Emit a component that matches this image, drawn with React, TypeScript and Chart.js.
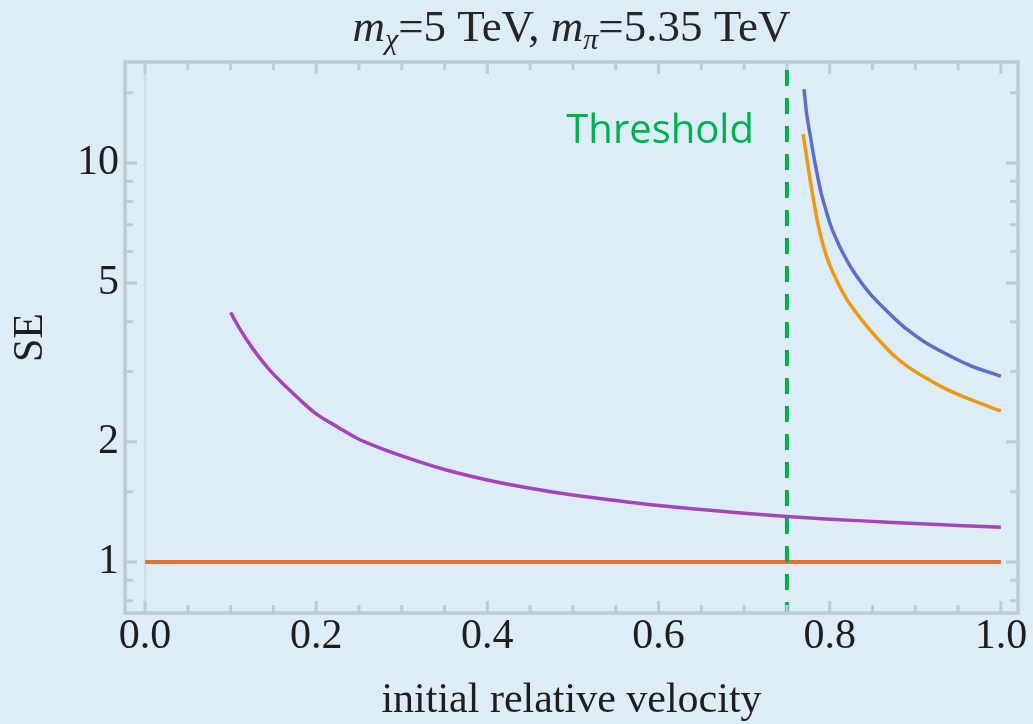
import React, { useEffect, useRef } from 'react';
import { Chart, registerables } from 'chart.js';

Chart.register(...registerables);

// ---------- data ----------
const xTickValues = [0, 0.2, 0.4, 0.6, 0.8, 1.0];
const xMinorTickValues = [0.05, 0.1, 0.15, 0.25, 0.3, 0.35, 0.45, 0.5, 0.55, 0.65, 0.7, 0.75, 0.85, 0.9, 0.95];
const yTickValues = [1, 2, 5, 10];
const yMinorTickValues = [0.8, 0.9, 1.5, 3, 4, 6, 7, 8, 9, 15];
const xRange = [-0.0234, 1.02];
const yRange = [0.745, 17.9];
const thresholdVelocity = 0.75;

const baselineV = [0, 1.0];
const baselineSE = [1, 1];

const purpleV = [0.1, 0.11, 0.1265, 0.146, 0.1655, 0.18, 0.2, 0.225, 0.25, 0.275, 0.3, 0.35, 0.4, 0.45, 0.5, 0.55, 0.6, 0.65, 0.7, 0.75, 0.8, 0.85, 0.9, 0.95, 1.0];
const purpleSE = [4.22, 3.86, 3.41, 3.02, 2.74, 2.56, 2.35, 2.18, 2.03, 1.93, 1.845, 1.705, 1.605, 1.53, 1.472, 1.425, 1.385, 1.353, 1.325, 1.30, 1.28, 1.264, 1.248, 1.235, 1.222];

const blueV = [0.770, 0.773, 0.777, 0.781, 0.785, 0.790, 0.795, 0.800, 0.810, 0.820, 0.830, 0.845, 0.860, 0.875, 0.890, 0.910, 0.935, 0.965, 1.0];
const blueSE = [15.3, 13.3, 11.8, 10.5, 9.45, 8.4, 7.7, 7.08, 6.28, 5.70, 5.26, 4.76, 4.40, 4.09, 3.83, 3.57, 3.33, 3.10, 2.92];

const orangeV = [0.769, 0.773, 0.777, 0.781, 0.785, 0.790, 0.795, 0.800, 0.810, 0.820, 0.830, 0.845, 0.860, 0.875, 0.890, 0.910, 0.935, 0.965, 1.0];
const orangeSE = [11.8, 10.35, 9.1, 8.1, 7.25, 6.5, 5.95, 5.55, 4.98, 4.55, 4.24, 3.86, 3.55, 3.29, 3.10, 2.91, 2.72, 2.55, 2.39];

const titleParts = [
  { text: 'm', italic: true, sub: false },
  { text: 'χ', italic: true, sub: true },
  { text: '=5 TeV, ', italic: false, sub: false },
  { text: 'm', italic: true, sub: false },
  { text: 'π', italic: true, sub: true },
  { text: '=5.35 TeV', italic: false, sub: false },
];
const xAxisTitle = 'initial relative velocity';
const yAxisTitle = 'SE';
const thresholdLabel = 'Threshold';

// ---------- styles ----------
const BG = 'rgb(220,237,247)';
const FRAME = 'rgb(188,203,212)';
const SERIF = "'Liberation Serif', 'Times New Roman', serif";
const TEXT = '#1e1e1e';

const pts = (xs: number[], ys: number[]) => xs.map((x, i) => ({ x, y: ys[i] }));

const framePlugin = {
  id: 'mmaFrame',
  beforeDatasetsDraw(chart: any) {
    const { ctx, chartArea: a, scales } = chart;
    const px = scales.x.getPixelForValue(0);
    ctx.save();
    ctx.strokeStyle = 'rgb(207,223,233)';
    ctx.lineWidth = 2.5;
    ctx.beginPath();
    ctx.moveTo(px, a.top);
    ctx.lineTo(px, a.bottom);
    ctx.stroke();
    ctx.restore();
  },
  afterDatasetsDraw(chart: any) {
    const { ctx, chartArea: a, scales } = chart;
    const xs = scales.x;
    const ys = scales.y;
    ctx.save();
    ctx.strokeStyle = FRAME;
    ctx.lineWidth = 3;
    const drawX = (v: number, len: number) => {
      const p = xs.getPixelForValue(v);
      ctx.beginPath();
      ctx.moveTo(p, a.bottom);
      ctx.lineTo(p, a.bottom - len);
      ctx.moveTo(p, a.top);
      ctx.lineTo(p, a.top + len);
      ctx.stroke();
    };
    const drawY = (v: number, len: number) => {
      const p = ys.getPixelForValue(v);
      ctx.beginPath();
      ctx.moveTo(a.left, p);
      ctx.lineTo(a.left + len, p);
      ctx.moveTo(a.right, p);
      ctx.lineTo(a.right - len, p);
      ctx.stroke();
    };
    xTickValues.forEach((v) => drawX(v, 12));
    xMinorTickValues.forEach((v) => drawX(v, 8));
    yTickValues.forEach((v) => drawY(v, 12));
    yMinorTickValues.forEach((v) => drawY(v, 8));
    ctx.lineWidth = 3.5;
    ctx.strokeRect(a.left, a.top, a.right - a.left, a.bottom - a.top);

    // threshold label
    const tx = xs.getPixelForValue(thresholdVelocity);
    ctx.fillStyle = '#00b050';
    ctx.font = "40px 'Open Sans', 'Noto Sans', sans-serif";
    ctx.textAlign = 'right';
    ctx.textBaseline = 'alphabetic';
    ctx.fillText(thresholdLabel, tx - 33, 143);
    ctx.restore();
  },
  afterDraw(chart: any) {
    const { ctx, chartArea: a } = chart;
    ctx.save();
    ctx.fillStyle = '#262626';
    ctx.textBaseline = 'alphabetic';
    ctx.textAlign = 'left';
    const fontFor = (p: any) => `${p.italic ? 'italic ' : ''}${p.sub ? 30 : 45}px ${SERIF}`;
    let total = 0;
    const widths = titleParts.map((p) => {
      ctx.font = fontFor(p);
      const w = ctx.measureText(p.text).width;
      total += w;
      return w;
    });
    let x = (a.left + a.right) / 2 - total / 2;
    const baseY = 41;
    titleParts.forEach((p, i) => {
      ctx.font = fontFor(p);
      ctx.fillText(p.text, x, p.sub ? baseY + 8 : baseY);
      x += widths[i];
    });
    ctx.restore();
  },
};

export default function App() {
  const ref = useRef<HTMLCanvasElement | null>(null);

  useEffect(() => {
    const canvas = ref.current;
    if (!canvas) return;
    const tickFont = { family: SERIF, size: 42, lineHeight: 1 };
    const chart = new Chart(canvas, {
      type: 'line',
      data: {
        datasets: [
          {
            label: 'threshold',
            data: [
              { x: thresholdVelocity, y: yRange[1] },
              { x: thresholdVelocity, y: yRange[0] },
            ],
            borderColor: '#00b050',
            borderWidth: 4,
            borderDash: [16, 12],
            borderDashOffset: 20,
            pointRadius: 0,
            order: 0,
          },
          {
            label: 'baseline',
            data: pts(baselineV, baselineSE),
            borderColor: 'rgb(230,115,52)',
            borderWidth: 4,
            pointRadius: 0,
            order: 1,
          },
          {
            label: 'purple',
            data: pts(purpleV, purpleSE),
            borderColor: 'rgb(165,68,182)',
            borderWidth: 3.5,
            pointRadius: 0,
            cubicInterpolationMode: 'monotone',
            order: 2,
          },
          {
            label: 'orange',
            data: pts(orangeV, orangeSE),
            borderColor: 'rgb(238,152,22)',
            borderWidth: 3.5,
            pointRadius: 0,
            cubicInterpolationMode: 'monotone',
            order: 3,
          },
          {
            label: 'blue',
            data: pts(blueV, blueSE),
            borderColor: 'rgb(94,110,200)',
            borderWidth: 3.5,
            pointRadius: 0,
            cubicInterpolationMode: 'monotone',
            order: 4,
          },
        ],
      },
      options: {
        animation: false,
        responsive: false,
        devicePixelRatio: 1,
        events: [],
        layout: { padding: { top: 62, right: 15, bottom: 0, left: 0 } },
        plugins: {
          legend: { display: false },
          title: { display: false },
          tooltip: { enabled: false },
        },
        scales: {
          x: {
            type: 'linear',
            min: xRange[0],
            max: xRange[1],
            bounds: 'data',
            grid: { display: false, drawTicks: false },
            border: { display: false },
            afterBuildTicks: (s: any) => {
              s.ticks = xTickValues.map((v) => ({ value: v }));
            },
            afterFit: (s: any) => {
              s.height = 111;
            },
            ticks: {
              autoSkip: false,
              maxRotation: 0,
              minRotation: 0,
              padding: 3,
              color: TEXT,
              font: tickFont,
              callback: (v: any) => Number(v).toFixed(1),
            },
            title: {
              display: true,
              text: xAxisTitle,
              color: TEXT,
              font: tickFont,
              padding: { top: 0, bottom: 2 },
            },
          },
          y: {
            type: 'logarithmic',
            min: yRange[0],
            max: yRange[1],
            bounds: 'data',
            grid: { display: false, drawTicks: false },
            border: { display: false },
            afterBuildTicks: (s: any) => {
              s.ticks = yTickValues.map((v) => ({ value: v }));
            },
            afterFit: (s: any) => {
              s.width = 125;
            },
            ticks: {
              autoSkip: false,
              padding: 6,
              color: TEXT,
              font: tickFont,
              callback: (v: any) => String(v),
            },
            title: {
              display: true,
              text: yAxisTitle,
              color: TEXT,
              font: tickFont,
              padding: { top: 10, bottom: 0 },
            },
          },
        },
      },
      plugins: [framePlugin],
    } as any);
    return () => chart.destroy();
  }, []);

  return (
    <div style={{ position: 'fixed', left: 0, top: 0, width: 1033, height: 724, background: BG }}>
      <canvas ref={ref} width={1033} height={724} style={{ display: 'block', width: 1033, height: 724 }} />
    </div>
  );
}
